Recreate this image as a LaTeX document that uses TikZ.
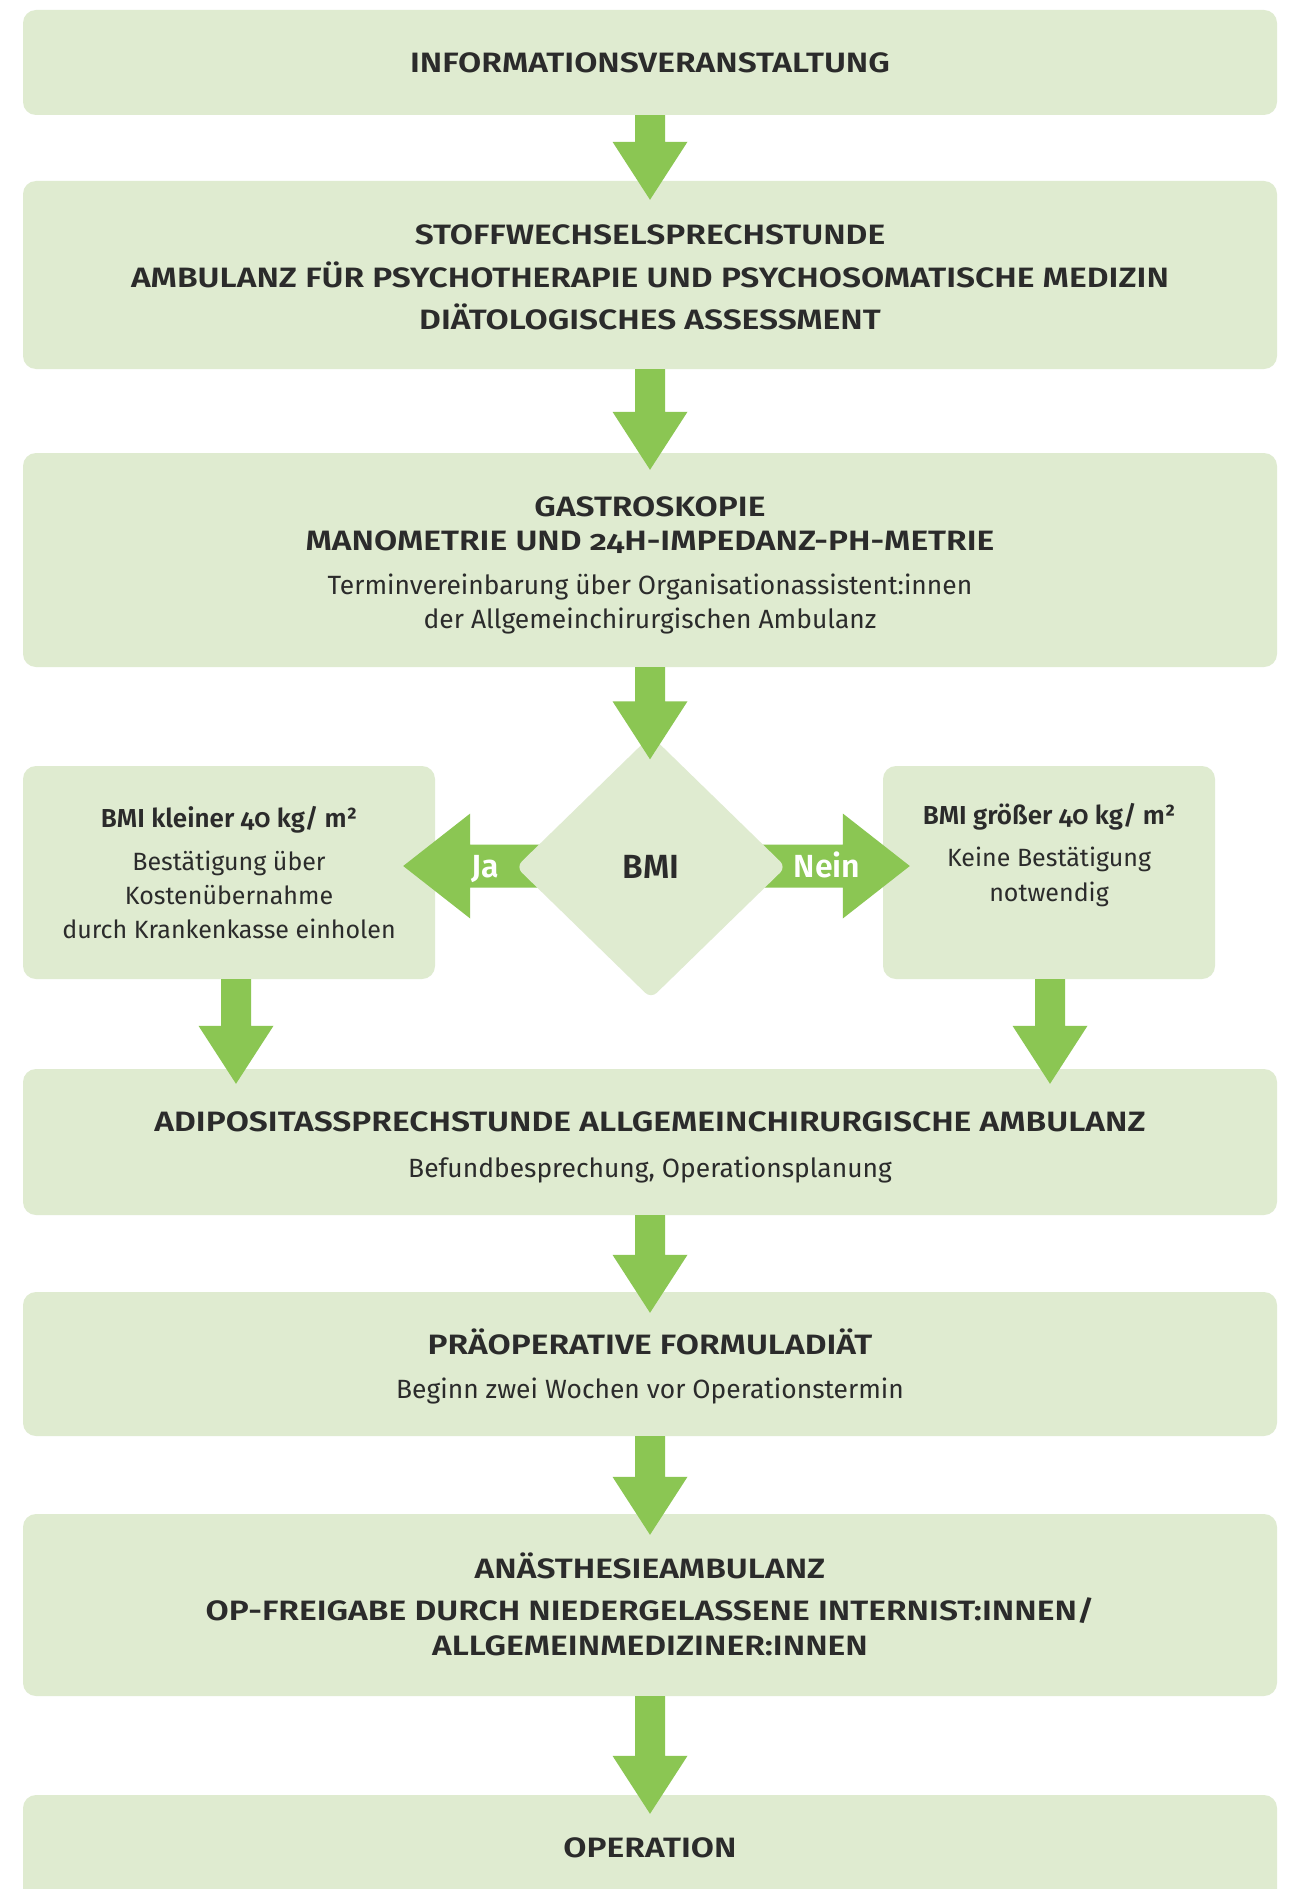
\documentclass[tikz,border=0pt]{standalone}
\usepackage{fontspec}
\setmainfont{Fira Sans}[Numbers=OldStyle, BoldFont={Fira Sans SemiBold}]
\newfontfamily\ttlfont{Fira Sans SemiBold}[FakeStretch=1.2, Numbers=OldStyle]
\usetikzlibrary{calc,shapes.geometric}
\definecolor{boxgreen}{HTML}{DFEBD0}
\definecolor{arrowgreen}{HTML}{8BC653}
\definecolor{txt}{HTML}{2B2B2B}
\newcommand\blockdown[2]{%
  \fill[arr] ($(#1)+(-15,0)$) -- ($(#2)+(-15,-58)$) -- ($(#2)+(-37.5,-58)$) -- (#2)
    -- ($(#2)+(37.5,-58)$) -- ($(#2)+(15,-58)$) -- ($(#1)+(15,0)$) -- cycle;}
\begin{document}
\begin{tikzpicture}[x=1pt,y=-1pt,
  box/.style={fill=boxgreen, draw=none, rounded corners=13pt, inner sep=0pt},
  ttl/.style={font=\fontsize{28}{32}\ttlfont, text=txt, inner sep=0pt, text height=19pt, text depth=0pt},
  ttls/.style={font=\fontsize{26}{30}\selectfont\bfseries, text=txt, inner sep=0pt, text height=18pt, text depth=0pt},
  sub/.style={font=\fontsize{26.4}{30}\selectfont, text=txt, inner sep=0pt, text height=18pt, text depth=0pt},
  subs/.style={font=\fontsize{25}{30}\selectfont, text=txt, inner sep=0pt, text height=17pt, text depth=0pt},
  arr/.style={fill=arrowgreen, draw=none},
  lbl/.style={font=\fontsize{32}{36}\selectfont\bfseries, inner sep=0pt, text height=22pt, text depth=0pt}
]
\useasboundingbox (0,0) rectangle (1294,1889);
\clip (0,0) rectangle (1294,1889);
\fill[white] (0,0) rectangle (1294,1889);

% boxes
\node[box, minimum width=1254pt, minimum height=105pt] (b1) at (650,62.5) {};
\node[box, minimum width=1254pt, minimum height=188pt] (b2) at (650,275) {};
\node[box, minimum width=1254pt, minimum height=214pt] (b3) at (650,560) {};
\node[box, minimum width=412pt, minimum height=213pt] (lbox) at (229,872.5) {};
\node[box, minimum width=332pt, minimum height=213pt] (rbox) at (1049,872.5) {};
\node[box, minimum width=1254pt, minimum height=146pt] (b5) at (650,1142) {};
\node[box, minimum width=1254pt, minimum height=144pt] (b6) at (650,1364) {};
\node[box, minimum width=1254pt, minimum height=182pt] (b7) at (650,1605) {};
\node[box, minimum width=1254pt, minimum height=165pt] (b8) at (650,1877.5) {};

% horizontal arrows (under the diamond)
\coordinate (bmic) at (651,867);
\coordinate (jt) at ($(lbox.east |- bmic)+(-32,-1)$);
\coordinate (nt) at ($(rbox.west |- bmic)+(27,-1)$);
\fill[arr] ($(bmic)+(0,-22.5)$) -- ($(jt)+(67,-21.5)$) -- ($(jt)+(67,-52.5)$) -- (jt)
  -- ($(jt)+(67,52.5)$) -- ($(jt)+(67,21.5)$) -- ($(bmic)+(0,20.5)$) -- cycle;
\fill[arr] ($(bmic)+(0,-22.5)$) -- ($(nt)+(-67,-21.5)$) -- ($(nt)+(-67,-52.5)$) -- (nt)
  -- ($(nt)+(-67,52.5)$) -- ($(nt)+(-67,21.5)$) -- ($(bmic)+(0,20.5)$) -- cycle;

% diamond
\node[diamond, aspect=1, fill=boxgreen, minimum width=270pt, minimum height=263pt,
  inner sep=0pt, rounded corners=8pt, lbl, font=\fontsize{33.5}{36}\selectfont\bfseries,
  text=txt] (bmi) at (bmic) {BMI};

% vertical arrows
\coordinate (t1) at ($(b2.north)+(0,19)$);
\coordinate (t2) at ($(b3.north)+(0,17)$);
\coordinate (t3) at ($(b3.south |- bmi.north)+(0,24)$);
\coordinate (sL) at ($(lbox.south)+(7,0)$);
\coordinate (tLb) at (sL |- b5.north);
\coordinate (tL) at ($(tLb)+(0,15)$);
\coordinate (sR) at ($(rbox.south)+(1,0)$);
\coordinate (tRb) at (sR |- b5.north);
\coordinate (tR) at ($(tRb)+(0,15)$);
\coordinate (t5) at ($(b6.north)+(0,21)$);
\coordinate (t6) at ($(b7.north)+(0,21)$);
\coordinate (t7) at ($(b8.north)+(0,19)$);
\blockdown{b1.south}{t1}
\blockdown{b2.south}{t2}
\blockdown{b3.south}{t3}
\blockdown{sL}{tL}
\blockdown{sR}{tR}
\blockdown{b5.south}{t5}
\blockdown{b6.south}{t6}
\blockdown{b7.south}{t7}

% labels on arrows
\node[lbl, text=white] (ja) at (485,866) {Ja};
\node[lbl, text=white] (nein) at (827,866) {Nein};

% texts
\node[ttl] (b1t) at (650,63) {INFORMATIONSVERANSTALTUNG};

\node[ttl] (b2a) at (650,235) {STOFFWECHSELSPRECHSTUNDE};
\node[ttl] (b2b) at (650,278) {AMBULANZ FÜR PSYCHOTHERAPIE UND PSYCHOSOMATISCHE MEDIZIN};
\node[ttl] (b2c) at (650,320) {DIÄTOLOGISCHES ASSESSMENT};

\node[ttl] (b3a) at (650,507) {GASTROSKOPIE};
\node[ttl] (b3b) at (650,541) {MANOMETRIE UND 24H-IMPEDANZ-PH-METRIE};
\node[sub] (b3c) at (650,585) {Terminvereinbarung über Organisationassistent:innen};
\node[sub] (b3d) at (650,619) {der Allgemeinchirurgischen Ambulanz};

\node[ttls] (la) at (229,818) {BMI kleiner 40 kg/ m²};
\node[subs] (lb) at (229,862) {Bestätigung über};
\node[subs] (lc) at (229,896) {Kostenübernahme};
\node[subs] (ld) at (229,930) {durch Krankenkasse einholen};

\node[ttls] (ra) at (1049,815) {BMI größer 40 kg/ m²};
\node[subs] (rb) at (1049,858) {Keine Bestätigung};
\node[subs] (rc) at (1049,893) {notwendig};

\node[ttl] (b5a) at (650,1122) {ADIPOSITASSPRECHSTUNDE ALLGEMEINCHIRURGISCHE AMBULANZ};
\node[sub] (b5b) at (650,1168) {Befundbesprechung, Operationsplanung};

\node[ttl] (b6a) at (650,1345) {PRÄOPERATIVE FORMULADIÄT};
\node[sub] (b6b) at (650,1389) {Beginn zwei Wochen vor Operationstermin};

\node[ttl] (b7a) at (650,1569) {ANÄSTHESIEAMBULANZ};
\node[ttl] (b7b) at (650,1611) {OP-FREIGABE DURCH NIEDERGELASSENE INTERNIST:INNEN/};
\node[ttl] (b7c) at (650,1646) {ALLGEMEINMEDIZINER:INNEN};

\node[ttl] (b8a) at (650,1848) {OPERATION};
\end{tikzpicture}
\end{document}
